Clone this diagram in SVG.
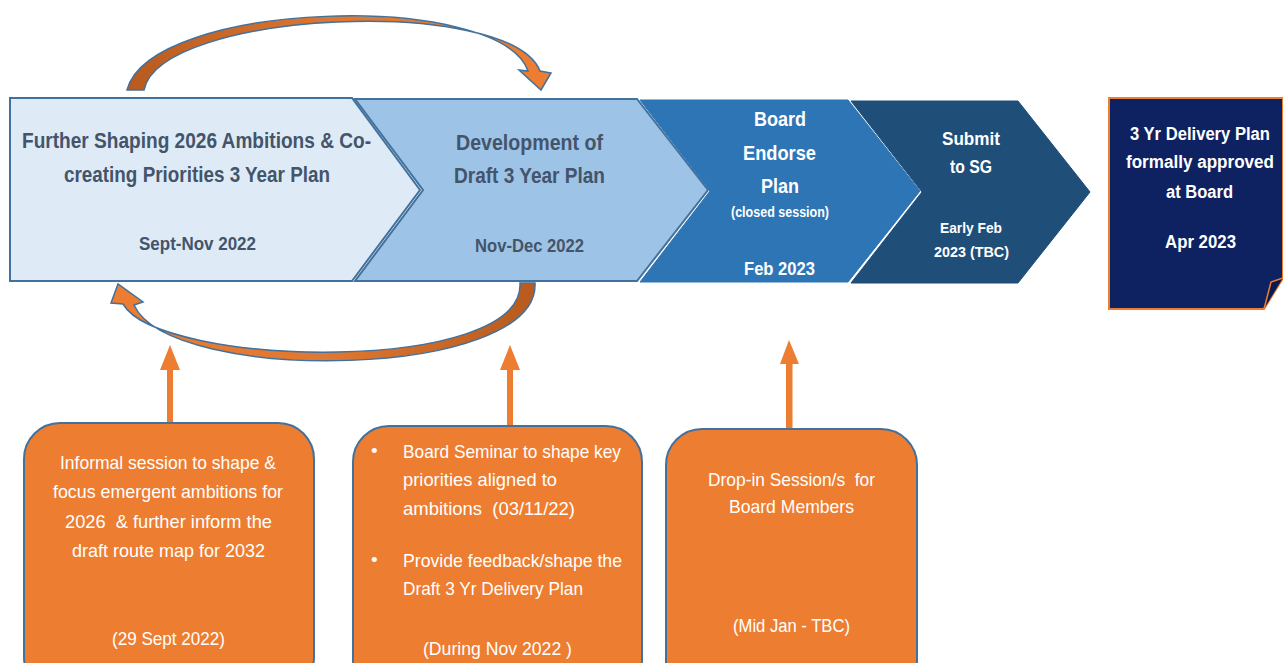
<svg xmlns="http://www.w3.org/2000/svg" width="1283" height="663" viewBox="0 0 1283 663">
<style>
text{font-family:"Liberation Sans Narrow","Liberation Sans",Arial,sans-serif}
.t{font-weight:bold;text-anchor:middle}
.g{fill:#44546a}
.w{fill:#ffffff}
.o{font-size:19px;fill:#ffffff}
.c{text-anchor:middle}
.box{fill:#ed7d31;stroke:#41719c;stroke-width:2}
.arr{fill:#ed7d31}
.curve{stroke:#41719c;stroke-width:1.5}
</style>
<defs>
<linearGradient id="gt" x1="0" y1="0" x2="1" y2="0">
<stop offset="0" stop-color="#b85a1e"/><stop offset="0.5" stop-color="#e07830"/><stop offset="1" stop-color="#ed7d31"/>
</linearGradient>
<linearGradient id="gb" x1="1" y1="0" x2="0" y2="0">
<stop offset="0" stop-color="#b85a1e"/><stop offset="0.5" stop-color="#e07830"/><stop offset="1" stop-color="#ed7d31"/>
</linearGradient>
</defs>
<rect width="1283" height="663" fill="#ffffff"/>

<g id="connectors">
<path class="curve" fill="url(#gt)" d="M127,90 C150,0 500,-10 528,71 L519,70 L541,90 L551,73 L540,71 C510,-5 160,10 144,90 Z"/>
<path class="curve" fill="url(#gb)" d="M520,283 C525,375 160,368 123,304 L111,303 L118,284 L143,302 L134,305 C170,385 540,380 535,283 Z"/>
<polygon class="arr" points="170,345 180,370 173,370 173,424 167,424 167,370 160,370"/>
<polygon class="arr" points="510,345 520,370 513,370 513,427 507,427 507,370 500,370"/>
<polygon class="arr" points="789,340 799,364 792.5,364 792.5,429 786,429 786,364 780,364"/>
</g>

<g id="stage1">
<path d="M10,98 L352,98 L420,190 L352,281 L10,281 Z" fill="#deebf7" stroke="#41719c" stroke-width="2"/>
<text class="t g" x="196.5" y="148" font-size="22" textLength="349" lengthAdjust="spacingAndGlyphs">Further Shaping 2026 Ambitions &amp; Co-</text>
<text class="t g" x="197" y="182" font-size="22" textLength="266" lengthAdjust="spacingAndGlyphs">creating Priorities 3 Year Plan</text>
<text class="t g" x="197.5" y="250" font-size="18" textLength="117" lengthAdjust="spacingAndGlyphs">Sept-Nov 2022</text>
</g>

<g id="stage2">
<path d="M355,99 L637,99 L708,190 L637,281 L355,281 L423,190 Z" fill="#9dc3e6" stroke="#41719c" stroke-width="2"/>
<text class="t g" x="529.5" y="150" font-size="22" textLength="147" lengthAdjust="spacingAndGlyphs">Development of</text>
<text class="t g" x="529.5" y="183" font-size="22" textLength="151" lengthAdjust="spacingAndGlyphs">Draft 3 Year Plan</text>
<text class="t g" x="529.5" y="252" font-size="18" textLength="109" lengthAdjust="spacingAndGlyphs">Nov-Dec 2022</text>
</g>

<g id="stage3">
<path d="M640,100 L848,100 L920,191 L848,282 L640,282 L710,191 Z" fill="#2e75b6" stroke="#2e75b6" stroke-width="1"/>
<text class="t w" x="780" y="126" font-size="21" textLength="52" lengthAdjust="spacingAndGlyphs">Board</text>
<text class="t w" x="779.5" y="160" font-size="21" textLength="73" lengthAdjust="spacingAndGlyphs">Endorse</text>
<text class="t w" x="780" y="193" font-size="21" textLength="38" lengthAdjust="spacingAndGlyphs">Plan</text>
<text class="t w" x="780" y="217" font-size="14" textLength="98" lengthAdjust="spacingAndGlyphs">(closed session)</text>
<text class="t w" x="779.5" y="275" font-size="19" textLength="71" lengthAdjust="spacingAndGlyphs">Feb 2023</text>
</g>

<g id="stage4">
<path d="M851,101 L1018,101 L1090,192 L1018,283 L851,283 L922,192 Z" fill="#1f4e79" stroke="#1f4e79" stroke-width="1"/>
<text class="t w" x="971" y="145" font-size="19" textLength="58" lengthAdjust="spacingAndGlyphs">Submit</text>
<text class="t w" x="971" y="173" font-size="19" textLength="42" lengthAdjust="spacingAndGlyphs">to SG</text>
<text class="t w" x="971" y="233" font-size="15" textLength="62" lengthAdjust="spacingAndGlyphs">Early Feb</text>
<text class="t w" x="971.5" y="257" font-size="15" textLength="75" lengthAdjust="spacingAndGlyphs">2023 (TBC)</text>
</g>

<g id="stage5">
<path d="M1109,98 L1283,98 L1283,278 L1264,309 L1109,309 Z" fill="#0e2161" stroke="#ed7d31" stroke-width="2"/>
<path d="M1264,309 L1271,282 L1283,278" fill="#0a1a4f" stroke="#ed7d31" stroke-width="1.5"/>
<text class="t w" x="1200" y="140" font-size="18" textLength="140" lengthAdjust="spacingAndGlyphs">3 Yr Delivery Plan</text>
<text class="t w" x="1200" y="168" font-size="18" textLength="148" lengthAdjust="spacingAndGlyphs">formally approved</text>
<text class="t w" x="1199.5" y="198" font-size="18" textLength="67" lengthAdjust="spacingAndGlyphs">at Board</text>
<text class="t w" x="1200.5" y="248" font-size="18" textLength="71" lengthAdjust="spacingAndGlyphs">Apr 2023</text>
</g>

<g id="note1">
<rect class="box" x="24" y="423" width="290" height="270" rx="36" ry="36"/>
<text class="o c" x="168" y="469" textLength="216" lengthAdjust="spacingAndGlyphs">Informal session to shape &amp;</text>
<text class="o c" x="168" y="498" textLength="230" lengthAdjust="spacingAndGlyphs">focus emergent ambitions for</text>
<text class="o c" x="168.5" y="528" textLength="207" lengthAdjust="spacingAndGlyphs" xml:space="preserve">2026  &amp; further inform the</text>
<text class="o c" x="168.5" y="557" textLength="193" lengthAdjust="spacingAndGlyphs">draft route map for 2032</text>
<text class="o c" x="168.5" y="645" textLength="113" lengthAdjust="spacingAndGlyphs">(29 Sept 2022)</text>
</g>

<g id="note2">
<rect class="box" x="353" y="426" width="289" height="270" rx="36" ry="36"/>
<text class="o" x="371" y="457">•</text>
<text class="o" x="403" y="458" textLength="218" lengthAdjust="spacingAndGlyphs">Board Seminar to shape key</text>
<text class="o" x="403" y="486" textLength="154" lengthAdjust="spacingAndGlyphs">priorities aligned to</text>
<text class="o" x="403" y="515" textLength="172" lengthAdjust="spacingAndGlyphs" xml:space="preserve">ambitions  (03/11/22)</text>
<text class="o" x="371" y="566">•</text>
<text class="o" x="403" y="567" textLength="219" lengthAdjust="spacingAndGlyphs">Provide feedback/shape the</text>
<text class="o" x="403" y="595" textLength="180" lengthAdjust="spacingAndGlyphs">Draft 3 Yr Delivery Plan</text>
<text class="o c" x="497.5" y="655" textLength="149" lengthAdjust="spacingAndGlyphs">(During Nov 2022 )</text>
</g>

<g id="note3">
<rect class="box" x="666" y="429" width="251" height="270" rx="36" ry="36"/>
<text class="o c" x="791.5" y="486" textLength="167" lengthAdjust="spacingAndGlyphs" xml:space="preserve">Drop-in Session/s  for</text>
<text class="o c" x="791.5" y="513" textLength="125" lengthAdjust="spacingAndGlyphs">Board Members</text>
<text class="o c" x="791.5" y="632" textLength="117" lengthAdjust="spacingAndGlyphs">(Mid Jan - TBC)</text>
</g>
</svg>
